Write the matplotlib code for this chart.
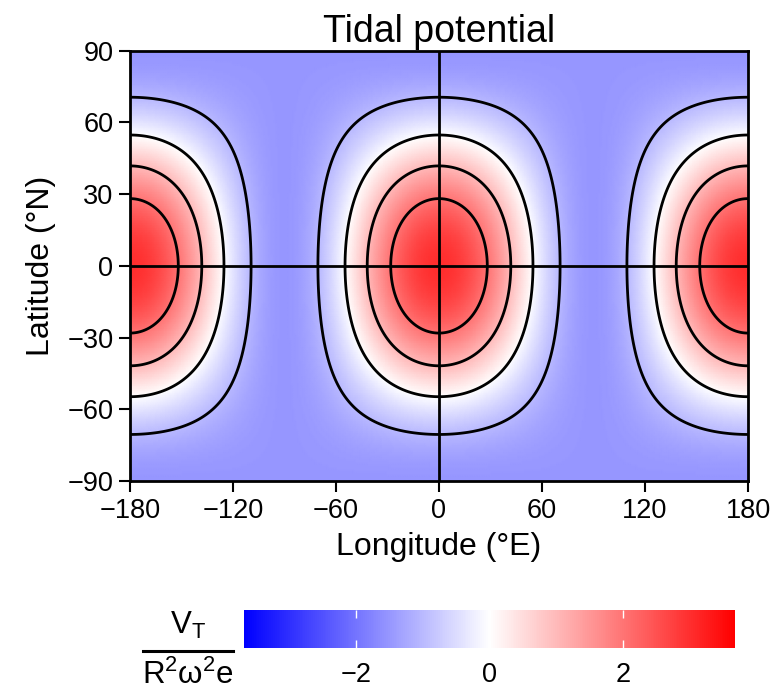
import numpy as np
import matplotlib
matplotlib.use("Agg")
import matplotlib.pyplot as plt
from matplotlib.lines import Line2D

plt.rcParams['font.family'] = ['Liberation Sans', 'DejaVu Sans']
plt.rcParams['mathtext.fontset'] = 'custom'
plt.rcParams['mathtext.rm'] = 'Liberation Sans'
plt.rcParams['mathtext.it'] = 'Liberation Sans:italic'

# Data: eccentricity tidal potential at periapse, V_T / (R^2 w^2 e)
lon = np.linspace(-180, 180, 361)
lat = np.linspace(-90, 90, 181)
p20_coef = -1.5      # coefficient of P20 term
p22_coef = 0.75      # coefficient of P22 cos(2 lon) term
contour_levels = [-1, 0, 1, 2]
vlim = [-3.67, 3.67]
xticks = [-180, -120, -60, 0, 60, 120, 180]
yticks = [-90, -60, -30, 0, 30, 60, 90]
cbar_ticks = [-2, 0, 2]

LON, LAT = np.meshgrid(lon, lat)
phi = np.radians(LAT)
lam = np.radians(LON)
P20 = 0.5 * (3 * np.sin(phi) ** 2 - 1)
P22 = 3 * np.cos(phi) ** 2
V = p20_coef * P20 + p22_coef * P22 * np.cos(2 * lam)

W, H = 777, 690
fig = plt.figure(figsize=(W / 100, H / 100), dpi=100)
ax = fig.add_axes([130 / W, 1 - 481 / H, (748 - 130) / W, (481 - 50.7) / H])

pc = ax.pcolormesh(LON, LAT, V, cmap='bwr', vmin=vlim[0], vmax=vlim[1],
                   shading='gouraud', rasterized=True)
ax.contour(LON, LAT, V, levels=contour_levels, colors='black',
           linewidths=2.0, linestyles='solid')
ax.axhline(0, color='black', lw=2.0)
ax.axvline(0, color='black', lw=2.0)

ax.set_xlim(-180, 180)
ax.set_ylim(-90, 90)
ax.set_xticks(xticks)
ax.set_yticks(yticks)
ax.set_xticklabels([str(t).replace('-', '\u2212') for t in xticks])
ax.set_yticklabels([str(t).replace('-', '\u2212') for t in yticks])
ax.tick_params(labelsize=19.5, length=8, width=1.5, direction='out', pad=4)
for s in ax.spines.values():
    s.set_linewidth(2.0)
ax.set_title('Tidal potential', fontsize=27, pad=6)
ax.set_xlabel('Longitude (\u00b0E)', fontsize=23, labelpad=6)
ax.set_ylabel('Latitude (\u00b0N)', fontsize=23, labelpad=8)

cax = fig.add_axes([244 / W, 1 - 648 / H, (735 - 244) / W, 38 / H])
cb = fig.colorbar(pc, cax=cax, orientation='horizontal', ticks=cbar_ticks)
cb.outline.set_visible(False)
cax.tick_params(direction='in', color='white', length=6, width=1,
                top=True, bottom=True, labelsize=19.5, pad=10)
cax.set_xticklabels([str(t).replace('-', '\u2212') for t in cbar_ticks])

fig.text(188 / W, 1 - 625 / H, r'$\mathregular{V_T}$', fontsize=22.5,
         ha='center', va='center')
fig.add_artist(Line2D([143 / W, 233 / W], [1 - 651 / H, 1 - 651 / H],
                      color='black', lw=2.2, transform=fig.transFigure))
fig.text(188 / W, 1 - 675 / H, r'$\mathregular{R^2\omega^2e}$', fontsize=22.5,
         ha='center', va='center')

fig.savefig('out.png', dpi=100)
